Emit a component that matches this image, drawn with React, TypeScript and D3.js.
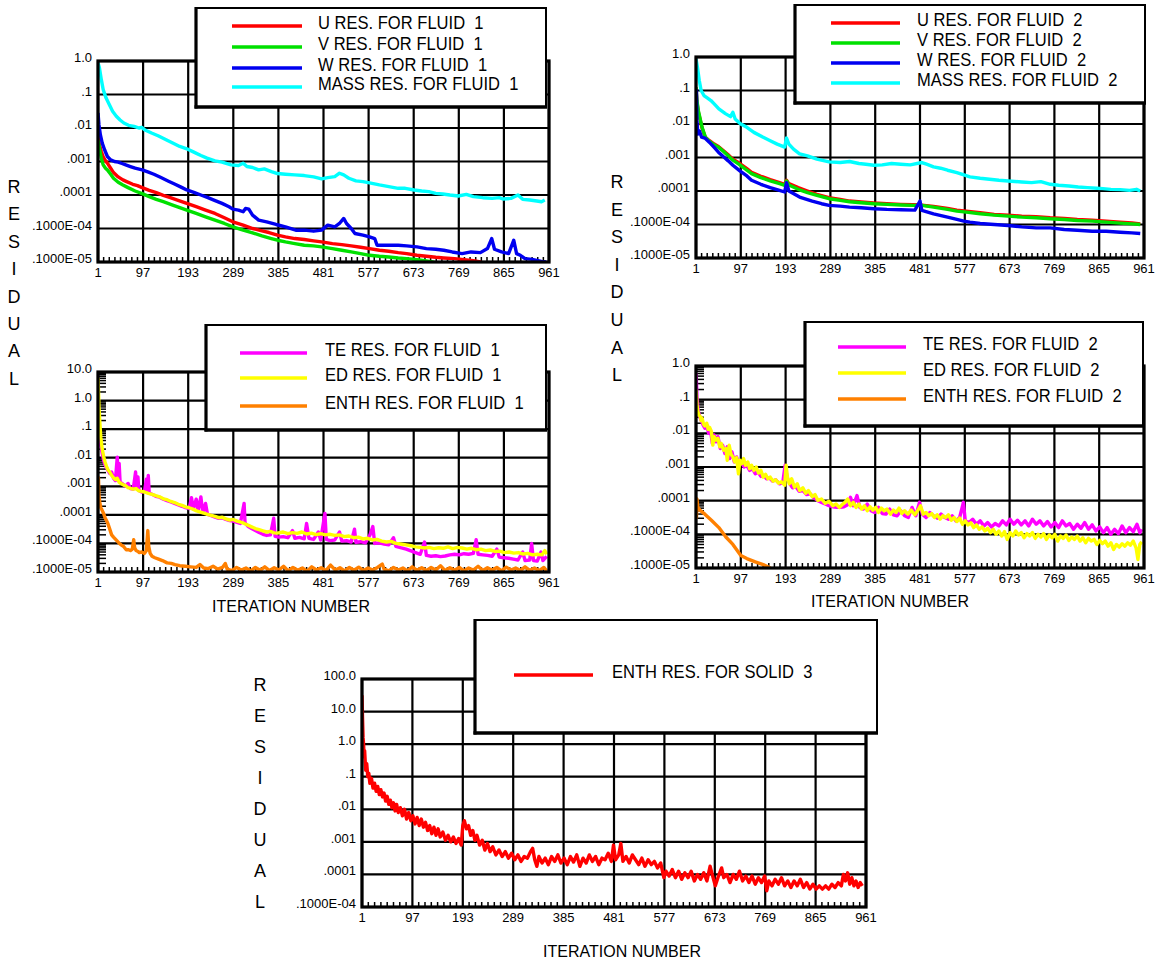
import React from "react";
import * as d3 from "d3";

// residual histories, stored as [iteration, log10(residual)]
const uFluid1: [number, number][] = [[1,-2.26],[4,-2.5],[8,-2.7],[12,-2.86],[17,-2.98],[21,-3.05],[28,-3.2],[34,-3.33],[44,-3.46],[54,-3.55],[62,-3.6],[75,-3.68],[85,-3.72],[95,-3.78],[110,-3.86],[125,-3.93],[140,-4.01],[155,-4.08],[170,-4.15],[190,-4.25],[210,-4.35],[230,-4.45],[250,-4.55],[270,-4.68],[288,-4.8],[310,-4.9],[330,-5.0],[350,-5.07],[365,-5.12],[383,-5.2],[400,-5.25],[420,-5.3],[440,-5.33],[460,-5.37],[477,-5.4],[500,-5.45],[520,-5.48],[540,-5.52],[560,-5.56],[579,-5.6],[600,-5.65],[620,-5.68],[640,-5.72],[658,-5.75],[680,-5.8],[700,-5.83],[720,-5.86],[737,-5.88],[760,-5.9],[780,-5.93],[800,-5.96],[815,-6.0],[825,-6.05]];
const vFluid1: [number, number][] = [[1,-2.36],[4,-2.6],[8,-2.9],[12,-3.1],[17,-3.2],[21,-3.25],[28,-3.38],[34,-3.5],[44,-3.62],[54,-3.7],[65,-3.78],[80,-3.88],[95,-3.96],[110,-4.05],[125,-4.13],[140,-4.2],[160,-4.3],[190,-4.45],[210,-4.55],[230,-4.65],[250,-4.75],[270,-4.85],[288,-4.95],[310,-5.05],[330,-5.13],[350,-5.22],[370,-5.3],[383,-5.35],[400,-5.4],[420,-5.45],[440,-5.5],[460,-5.52],[477,-5.55],[500,-5.6],[520,-5.65],[540,-5.7],[560,-5.75],[579,-5.8],[600,-5.83],[620,-5.85],[640,-5.88],[658,-5.9],[680,-5.93],[700,-5.97],[713,-6.0],[725,-6.05]];
const wFluid1: [number, number][] = [[1,-1.55],[3,-1.9],[6,-2.2],[10,-2.45],[15,-2.65],[21,-2.85],[28,-2.95],[36,-3.0],[44,-3.02],[52,-3.06],[60,-3.1],[70,-3.15],[80,-3.2],[95,-3.25],[107,-3.31],[120,-3.38],[135,-3.48],[150,-3.58],[165,-3.68],[180,-3.78],[190,-3.85],[205,-3.92],[220,-4.0],[235,-4.08],[249,-4.16],[265,-4.25],[280,-4.35],[288,-4.42],[300,-4.45],[310,-4.5],[315,-4.4],[322,-4.42],[330,-4.6],[343,-4.75],[360,-4.8],[380,-4.88],[400,-4.95],[422,-5.05],[440,-5.05],[460,-5.08],[477,-5.05],[490,-4.9],[505,-4.95],[515,-4.85],[524,-4.7],[530,-4.85],[540,-5.0],[548,-5.15],[565,-5.2],[579,-5.25],[590,-5.3],[595,-5.5],[620,-5.5],[640,-5.5],[658,-5.52],[680,-5.55],[700,-5.6],[720,-5.62],[737,-5.65],[755,-5.7],[776,-5.75],[795,-5.7],[815,-5.72],[830,-5.6],[839,-5.3],[845,-5.62],[860,-5.7],[875,-5.75],[886,-5.35],[892,-5.75],[900,-5.8],[910,-5.9],[925,-5.92],[945,-5.98],[955,-6.0]];
const massFluid1: [number, number][] = [[1,-0.05],[4,-0.2],[8,-0.55],[12,-0.85],[18,-1.1],[25,-1.3],[32,-1.5],[40,-1.65],[48,-1.76],[56,-1.85],[66,-1.92],[78,-1.95],[88,-2.0],[94,-1.98],[100,-2.05],[115,-2.15],[130,-2.24],[147,-2.36],[160,-2.45],[175,-2.55],[190,-2.62],[205,-2.72],[220,-2.82],[233,-2.9],[250,-2.98],[265,-3.02],[284,-3.1],[300,-3.12],[310,-3.05],[318,-3.15],[330,-3.18],[343,-3.25],[355,-3.22],[370,-3.3],[383,-3.36],[400,-3.38],[420,-3.4],[440,-3.42],[460,-3.46],[477,-3.52],[490,-3.48],[505,-3.45],[515,-3.35],[524,-3.4],[535,-3.5],[550,-3.58],[565,-3.6],[579,-3.64],[600,-3.7],[620,-3.75],[640,-3.8],[655,-3.8],[674,-3.85],[690,-3.88],[705,-3.9],[720,-3.95],[735,-3.97],[750,-4.0],[768,-4.03],[785,-3.98],[800,-4.05],[820,-4.08],[840,-4.1],[855,-4.08],[863,-4.12],[880,-4.1],[895,-4.0],[905,-4.13],[920,-4.15],[935,-4.18],[945,-4.2],[952,-4.15]];

const uFluid2: [number, number][] = [[1,-0.95],[3,-1.35],[6,-1.65],[9,-1.82],[14,-2.12],[21,-2.4],[30,-2.5],[40,-2.6],[49,-2.67],[60,-2.8],[70,-2.92],[80,-3.05],[95,-3.18],[110,-3.33],[120,-3.44],[140,-3.56],[160,-3.66],[180,-3.75],[191,-3.8],[195,-3.68],[200,-3.78],[220,-3.9],[240,-4.0],[260,-4.1],[286,-4.2],[310,-4.25],[330,-4.3],[355,-4.33],[382,-4.36],[410,-4.38],[440,-4.4],[465,-4.41],[485,-4.42],[510,-4.46],[540,-4.52],[560,-4.57],[580,-4.6],[610,-4.65],[640,-4.7],[670,-4.72],[699,-4.75],[730,-4.77],[760,-4.8],[790,-4.82],[818,-4.85],[850,-4.87],[880,-4.9],[910,-4.93],[935,-4.95],[953,-4.98]];
const vFluid2: [number, number][] = [[1,-0.9],[3,-1.3],[6,-1.6],[9,-1.79],[14,-2.1],[21,-2.39],[30,-2.52],[40,-2.62],[49,-2.69],[60,-2.82],[70,-2.95],[80,-3.08],[95,-3.22],[110,-3.38],[120,-3.48],[140,-3.6],[160,-3.7],[180,-3.78],[191,-3.83],[195,-3.7],[200,-3.82],[220,-3.95],[240,-4.05],[260,-4.13],[286,-4.23],[310,-4.28],[330,-4.32],[355,-4.35],[382,-4.38],[410,-4.4],[440,-4.42],[465,-4.43],[485,-4.43],[510,-4.48],[540,-4.55],[560,-4.6],[580,-4.63],[610,-4.68],[640,-4.72],[670,-4.75],[699,-4.78],[730,-4.8],[760,-4.83],[790,-4.85],[818,-4.88],[850,-4.9],[880,-4.93],[910,-4.96],[935,-4.98],[953,-5.0]];
const wFluid2: [number, number][] = [[1,-2.2],[2,-1.0],[3,-1.9],[5,-2.3],[8,-2.2],[13,-2.39],[20,-2.42],[30,-2.55],[40,-2.7],[49,-2.84],[60,-2.98],[70,-3.1],[80,-3.23],[95,-3.4],[110,-3.55],[120,-3.68],[140,-3.8],[160,-3.9],[180,-3.98],[191,-4.03],[195,-3.75],[200,-4.0],[223,-4.18],[250,-4.3],[270,-4.38],[286,-4.43],[310,-4.45],[330,-4.48],[355,-4.5],[382,-4.53],[410,-4.55],[440,-4.56],[470,-4.57],[481,-4.3],[485,-4.58],[510,-4.68],[540,-4.78],[560,-4.85],[575,-4.9],[588,-4.93],[610,-4.97],[640,-5.0],[670,-5.03],[699,-5.07],[730,-5.1],[760,-5.1],[790,-5.15],[818,-5.17],[850,-5.2],[880,-5.2],[910,-5.23],[935,-5.25],[953,-5.27]];
const massFluid2: [number, number][] = [[1,-0.05],[4,-0.3],[8,-0.7],[12,-1.0],[18,-1.15],[25,-1.22],[33,-1.3],[40,-1.4],[50,-1.55],[64,-1.69],[75,-1.78],[80,-1.65],[85,-1.85],[96,-1.99],[110,-2.1],[125,-2.25],[144,-2.39],[160,-2.5],[175,-2.6],[191,-2.69],[195,-2.42],[200,-2.6],[210,-2.75],[223,-2.89],[240,-2.95],[260,-3.05],[286,-3.13],[310,-3.15],[330,-3.12],[350,-3.18],[365,-3.2],[382,-3.23],[400,-3.22],[420,-3.18],[440,-3.2],[460,-3.22],[485,-3.15],[495,-3.2],[510,-3.28],[525,-3.32],[540,-3.38],[560,-3.45],[575,-3.52],[588,-3.58],[610,-3.62],[630,-3.65],[650,-3.68],[670,-3.7],[699,-3.73],[720,-3.75],[740,-3.72],[760,-3.8],[778,-3.83],[800,-3.85],[820,-3.88],[840,-3.9],[860,-3.92],[873,-3.93],[890,-3.95],[910,-3.96],[930,-3.98],[945,-3.95],[953,-4.0]];

const teFluid1: [number, number][] = [[1,-0.35],[2,-0.6],[3,-0.9],[5,-1.3],[7,-1.6],[10,-1.85],[13,-2.1],[16,-2.25],[19,-2.35],[22,-2.44],[26,-2.55],[30,-2.5],[34,-2.72],[38,-2.8],[42,-1.98],[44,-2.75],[46,-2.2],[48,-2.85],[52,-2.9],[56,-2.95],[60,-3.0],[65,-2.9],[70,-3.08],[76,-3.1],[81,-2.5],[83,-3.05],[86,-2.67],[88,-3.15],[94,-3.2],[100,-3.18],[104,-2.75],[106,-3.2],[108,-2.62],[110,-3.24],[116,-3.28],[124,-3.35],[132,-3.38],[140,-3.45],[148,-3.5],[156,-3.55],[164,-3.6],[172,-3.65],[180,-3.7],[187,-3.75],[195,-3.78],[200,-3.4],[204,-3.8],[210,-3.45],[214,-3.85],[220,-3.37],[224,-3.92],[230,-3.6],[234,-3.98],[242,-4.03],[250,-4.08],[258,-4.12],[265,-4.1],[273,-4.16],[281,-4.2],[289,-4.22],[297,-4.26],[304,-4.3],[312,-3.6],[314,-4.28],[320,-4.4],[328,-4.48],[336,-4.55],[344,-4.62],[352,-4.68],[360,-4.72],[368,-4.7],[375,-4.12],[378,-4.75],[386,-4.78],[395,-4.76],[405,-4.8],[415,-4.55],[420,-4.82],[430,-4.79],[440,-4.84],[445,-4.3],[450,-4.82],[460,-4.86],[470,-4.6],[475,-4.88],[484,-3.95],[487,-4.86],[495,-4.9],[505,-4.88],[515,-4.6],[520,-4.92],[530,-4.9],[540,-4.95],[547,-4.5],[550,-4.96],[560,-4.94],[570,-4.98],[580,-4.7],[586,-4.41],[590,-5.0],[600,-4.98],[610,-5.02],[620,-5.05],[630,-4.8],[635,-5.1],[645,-5.15],[657,-5.2],[667,-5.26],[677,-5.32],[687,-5.38],[696,-4.95],[700,-5.42],[710,-5.45],[720,-5.43],[730,-5.46],[740,-5.44],[750,-5.4],[760,-5.38],[770,-5.4],[780,-5.36],[790,-5.38],[800,-5.35],[806,-4.87],[810,-5.38],[820,-5.4],[830,-5.42],[840,-5.45],[850,-5.2],[855,-5.48],[865,-5.5],[875,-5.52],[885,-5.55],[895,-5.58],[905,-5.3],[910,-5.6],[920,-5.58],[924,-5.0],[928,-5.6],[936,-5.62],[944,-5.3],[948,-5.6],[956,-5.45]];
const edFluid1: [number, number][] = [[1,0.8],[2,0.4],[3,-0.2],[5,-0.8],[7,-1.3],[10,-1.7],[13,-1.95],[16,-2.15],[19,-2.3],[22,-2.42],[26,-2.5],[30,-2.62],[34,-2.7],[38,-2.76],[42,-2.72],[46,-2.86],[50,-2.9],[55,-2.95],[60,-2.98],[65,-3.05],[70,-3.07],[76,-3.1],[82,-3.08],[88,-3.16],[94,-3.18],[100,-3.2],[108,-3.25],[116,-3.28],[124,-3.33],[132,-3.37],[140,-3.44],[148,-3.47],[156,-3.53],[164,-3.57],[172,-3.63],[180,-3.67],[187,-3.72],[195,-3.75],[203,-3.8],[211,-3.86],[218,-3.9],[226,-3.94],[234,-3.98],[242,-4.02],[250,-4.05],[258,-4.1],[265,-4.08],[273,-4.14],[281,-4.18],[289,-4.16],[297,-4.22],[304,-4.25],[312,-4.3],[320,-4.36],[328,-4.42],[336,-4.48],[344,-4.52],[352,-4.56],[360,-4.6],[368,-4.58],[376,-4.63],[383,-4.64],[395,-4.6],[405,-4.66],[415,-4.62],[425,-4.65],[435,-4.6],[445,-4.67],[455,-4.64],[465,-4.69],[475,-4.66],[485,-4.7],[495,-4.68],[505,-4.72],[515,-4.7],[525,-4.76],[535,-4.74],[545,-4.8],[555,-4.78],[565,-4.84],[575,-4.82],[585,-4.88],[595,-4.86],[605,-4.92],[615,-4.95],[625,-4.93],[635,-5.0],[645,-5.02],[657,-5.05],[667,-5.08],[677,-5.12],[687,-5.14],[696,-5.16],[706,-5.14],[716,-5.18],[726,-5.15],[736,-5.17],[746,-5.12],[756,-5.18],[766,-5.14],[776,-5.16],[786,-5.2],[796,-5.17],[806,-5.22],[816,-5.2],[826,-5.25],[836,-5.23],[846,-5.28],[856,-5.27],[866,-5.32],[876,-5.3],[886,-5.34],[896,-5.32],[906,-5.37],[916,-5.35],[926,-5.4],[936,-5.38],[946,-5.4],[952,-5.25],[956,-5.38]];
const enthFluid1: [number, number][] = [[1,-2.9],[2,-2.7],[3,-3.3],[5,-3.6],[7,-3.75],[10,-3.85],[13,-3.95],[16,-4.1],[19,-4.2],[22,-4.3],[26,-4.5],[30,-4.7],[34,-4.78],[38,-4.85],[42,-4.92],[46,-4.99],[50,-5.05],[55,-5.1],[61,-5.22],[66,-5.22],[70,-5.25],[74,-5.2],[77,-4.87],[79,-5.15],[82,-5.25],[86,-5.28],[89,-5.32],[94,-5.3],[100,-5.35],[104,-5.25],[107,-4.55],[109,-5.1],[112,-5.35],[116,-5.45],[122,-5.5],[130,-5.55],[138,-5.6],[148,-5.68],[157,-5.7],[165,-5.74],[175,-5.78],[187,-5.8],[198,-5.82],[210,-5.84],[218,-5.74],[226,-5.86],[236,-5.88],[246,-5.8],[256,-5.9],[266,-5.84],[272,-5.7],[276,-5.9],[286,-5.95],[296,-5.84],[306,-5.93],[316,-5.86],[326,-5.96],[336,-5.84],[346,-5.94],[356,-5.82],[366,-5.95],[376,-5.85],[386,-5.93],[396,-5.8],[406,-5.96],[416,-5.84],[426,-5.94],[436,-5.86],[446,-5.97],[456,-5.82],[466,-5.93],[476,-5.85],[486,-5.95],[496,-5.76],[506,-5.93],[516,-5.85],[526,-5.96],[536,-5.84],[546,-5.94],[556,-5.83],[566,-5.95],[576,-5.86],[586,-5.93],[596,-5.84],[606,-5.72],[610,-5.9],[620,-5.96],[630,-5.84],[640,-5.93],[650,-5.86],[660,-5.96],[670,-5.82],[680,-5.94],[690,-5.85],[700,-5.95],[710,-5.84],[720,-5.93],[730,-5.78],[740,-5.95],[750,-5.85],[760,-5.94],[770,-5.84],[780,-5.96],[790,-5.86],[800,-5.93],[810,-5.8],[820,-5.95],[830,-5.85],[840,-5.94],[850,-5.84],[860,-5.96],[870,-5.83],[880,-5.93],[890,-5.86],[900,-5.95],[910,-5.82],[920,-5.94],[930,-5.86],[940,-5.95],[950,-5.84],[956,-5.96]];

const teFluid2: [number, number][] = [[1,-0.22],[2,-0.5],[3,-0.9],[5,-1.25],[7,-1.4],[10,-1.55],[13,-1.65],[16,-1.75],[20,-1.85],[24,-1.75],[28,-2.0],[32,-1.9],[36,-2.3],[40,-2.05],[44,-2.25],[48,-2.1],[53,-2.45],[58,-2.35],[63,-2.6],[68,-2.4],[73,-2.75],[78,-2.55],[83,-2.85],[88,-2.7],[93,-2.95],[98,-2.85],[104,-3.0],[110,-2.95],[116,-3.1],[122,-3.05],[128,-3.2],[134,-3.15],[140,-3.28],[146,-3.25],[152,-3.35],[158,-3.32],[165,-3.42],[172,-3.38],[180,-3.5],[187,-3.46],[192,-2.95],[196,-3.3],[202,-3.5],[208,-3.62],[215,-3.58],[222,-3.72],[230,-3.7],[238,-3.82],[246,-3.8],[254,-3.92],[262,-4.0],[270,-4.05],[278,-4.1],[286,-4.15],[294,-4.18],[302,-4.2],[310,-4.2],[318,-4.18],[326,-4.12],[332,-3.9],[338,-4.15],[346,-3.85],[352,-4.2],[360,-4.25],[368,-4.1],[376,-4.3],[384,-4.35],[392,-4.2],[400,-4.38],[408,-4.4],[416,-4.25],[424,-4.42],[432,-4.45],[440,-4.3],[448,-4.45],[456,-4.5],[464,-4.2],[472,-4.45],[480,-4.05],[486,-4.4],[494,-4.5],[502,-4.35],[510,-4.45],[518,-4.52],[526,-4.4],[534,-4.5],[542,-4.55],[550,-4.45],[558,-4.6],[566,-4.5],[574,-4.05],[578,-4.6],[586,-4.65],[594,-4.55],[602,-4.7],[610,-4.6],[618,-4.75],[626,-4.65],[634,-4.78],[642,-4.68],[650,-4.75],[658,-4.6],[666,-4.72],[674,-4.55],[682,-4.7],[690,-4.58],[698,-4.72],[706,-4.6],[714,-4.75],[722,-4.55],[730,-4.7],[738,-4.6],[746,-4.75],[754,-4.62],[762,-4.78],[770,-4.65],[778,-4.8],[786,-4.6],[794,-4.75],[802,-4.68],[810,-4.85],[818,-4.7],[826,-4.82],[834,-4.65],[842,-4.85],[850,-4.72],[858,-4.9],[866,-4.78],[874,-4.95],[882,-4.8],[890,-5.0],[898,-4.85],[906,-4.98],[914,-4.75],[922,-4.95],[930,-4.8],[938,-4.92],[946,-4.7],[952,-4.95],[956,-4.85]];
const edFluid2: [number, number][] = [[1,-0.7],[2,-0.9],[3,-1.15],[5,-1.35],[7,-1.45],[10,-1.5],[12,-1.62],[14,-1.55],[17,-1.72],[20,-1.78],[24,-1.7],[27,-1.88],[30,-1.82],[34,-1.95],[37,-2.35],[40,-2.1],[44,-2.2],[48,-2.15],[52,-2.4],[55,-2.3],[60,-2.5],[65,-2.45],[68,-2.8],[72,-2.35],[76,-2.62],[80,-2.7],[84,-2.85],[88,-2.72],[92,-3.2],[95,-2.8],[99,-2.9],[103,-2.75],[107,-2.95],[112,-2.85],[116,-3.05],[120,-2.95],[125,-3.1],[130,-3.0],[135,-3.18],[140,-3.1],[145,-3.3],[150,-3.22],[155,-3.35],[160,-3.3],[166,-3.42],[172,-3.38],[178,-3.48],[184,-3.44],[191,-3.54],[194,-2.95],[197,-3.3],[201,-3.5],[206,-3.35],[212,-3.6],[218,-3.5],[223,-3.7],[230,-3.62],[236,-3.78],[242,-3.7],[250,-3.88],[256,-3.82],[262,-3.99],[270,-3.95],[278,-4.08],[286,-4.02],[294,-4.15],[301,-4.1],[308,-4.2],[314,-4.12],[320,-4.05],[326,-3.95],[332,-4.15],[338,-4.05],[344,-4.2],[350,-4.1],[356,-4.25],[362,-4.15],[368,-4.3],[374,-4.18],[380,-4.28],[386,-4.2],[392,-4.35],[398,-4.22],[404,-4.3],[410,-4.25],[418,-4.4],[424,-4.28],[430,-4.35],[436,-4.22],[442,-4.38],[448,-4.3],[455,-4.4],[462,-4.28],[470,-4.42],[476,-4.3],[482,-4.15],[488,-4.4],[494,-4.35],[500,-4.45],[506,-4.38],[512,-4.5],[518,-4.42],[524,-4.55],[530,-4.45],[536,-4.5],[542,-4.42],[548,-4.58],[554,-4.5],[560,-4.62],[566,-4.52],[572,-4.7],[578,-4.6],[584,-4.72],[590,-4.66],[596,-4.8],[602,-4.72],[608,-4.85],[614,-4.78],[620,-4.9],[626,-4.82],[632,-4.95],[638,-4.85],[644,-5.0],[650,-4.9],[656,-5.05],[662,-4.92],[668,-5.15],[674,-4.95],[680,-5.05],[686,-4.9],[692,-5.02],[698,-4.95],[704,-5.1],[710,-4.98],[716,-5.05],[722,-4.95],[728,-5.12],[734,-5.0],[740,-5.08],[746,-4.98],[752,-5.15],[758,-5.02],[764,-5.1],[770,-5.0],[776,-5.2],[782,-5.05],[788,-5.12],[794,-5.02],[800,-5.18],[806,-5.08],[812,-5.15],[818,-5.05],[824,-5.2],[830,-5.1],[836,-5.25],[842,-5.12],[848,-5.2],[854,-5.15],[860,-5.3],[866,-5.18],[872,-5.28],[878,-5.2],[884,-5.35],[890,-5.25],[896,-5.45],[902,-5.3],[908,-5.38],[914,-5.28],[920,-5.35],[926,-5.25],[932,-5.32],[938,-5.2],[944,-5.4],[948,-5.75],[952,-5.3],[956,-5.22]];
const enthFluid2: [number, number][] = [[1,-3.9],[2,-4.5],[3,-3.95],[5,-4.2],[10,-4.29],[20,-4.4],[34,-4.58],[50,-4.8],[65,-5.08],[80,-5.3],[97,-5.63],[110,-5.72],[128,-5.82],[145,-5.9],[156,-5.97],[165,-6.05]];

const enthSolid3: [number, number][] = [[1,1.5],[2,0.8],[3,0.2],[4,0.0],[5,-0.4],[6,-0.2],[8,-0.8],[10,-0.6],[12,-1.0],[14,-0.9],[16,-1.2],[19,-1.05],[22,-1.35],[25,-1.2],[28,-1.45],[31,-1.3],[34,-1.55],[37,-1.4],[40,-1.62],[43,-1.5],[46,-1.75],[49,-1.6],[52,-1.85],[55,-1.72],[58,-1.95],[61,-1.8],[64,-2.05],[67,-1.85],[70,-2.1],[74,-1.95],[78,-2.2],[82,-2.0],[86,-2.3],[90,-2.1],[94,-2.35],[98,-2.2],[102,-2.45],[106,-2.25],[110,-2.5],[114,-2.3],[118,-2.55],[122,-2.4],[126,-2.65],[130,-2.5],[134,-2.75],[138,-2.55],[142,-2.8],[146,-2.6],[150,-2.85],[155,-2.7],[160,-2.95],[165,-2.8],[170,-3.0],[175,-2.85],[180,-3.05],[185,-2.9],[190,-3.1],[193,-2.5],[196,-2.35],[200,-2.6],[204,-2.5],[208,-2.8],[212,-2.65],[216,-2.95],[220,-2.8],[225,-3.1],[230,-2.95],[235,-3.25],[240,-3.05],[245,-3.3],[250,-3.15],[256,-3.4],[262,-3.25],[268,-3.45],[274,-3.3],[280,-3.5],[286,-3.35],[292,-3.55],[298,-3.4],[304,-3.6],[310,-3.45],[316,-3.5],[322,-3.3],[326,-3.2],[330,-3.55],[334,-3.75],[338,-3.45],[344,-3.65],[350,-3.5],[356,-3.7],[362,-3.45],[368,-3.6],[374,-3.4],[380,-3.65],[386,-3.5],[392,-3.7],[398,-3.45],[404,-3.62],[410,-3.4],[416,-3.75],[422,-3.5],[428,-3.65],[434,-3.4],[440,-3.6],[446,-3.45],[452,-3.7],[458,-3.5],[464,-3.55],[470,-3.35],[476,-3.6],[480,-3.1],[484,-3.55],[490,-3.4],[494,-3.05],[498,-3.6],[504,-3.45],[510,-3.65],[516,-3.4],[522,-3.55],[528,-3.7],[534,-3.5],[540,-3.75],[546,-3.55],[552,-3.7],[558,-3.6],[564,-3.8],[570,-3.65],[576,-4.1],[580,-3.9],[586,-4.05],[592,-3.85],[598,-4.1],[604,-3.9],[610,-4.15],[616,-3.95],[622,-4.1],[628,-3.9],[634,-4.2],[640,-4.0],[646,-4.15],[652,-3.95],[658,-4.2],[664,-3.75],[668,-4.0],[674,-4.35],[680,-4.05],[686,-3.8],[690,-4.1],[696,-4.0],[702,-4.25],[708,-4.0],[714,-4.15],[720,-3.9],[726,-4.2],[732,-4.05],[738,-4.25],[744,-4.05],[750,-4.3],[756,-4.1],[762,-4.25],[768,-4.05],[772,-4.5],[776,-4.2],[782,-4.35],[788,-4.15],[794,-4.3],[800,-4.1],[806,-4.35],[812,-4.2],[818,-4.4],[824,-4.2],[830,-4.35],[836,-4.15],[842,-4.4],[848,-4.25],[854,-4.45],[860,-4.3],[866,-4.45],[872,-4.35],[878,-4.45],[884,-4.35],[890,-4.45],[896,-4.3],[902,-4.4],[908,-4.25],[914,-4.35],[918,-4.0],[922,-4.2],[926,-3.95],[930,-4.3],[934,-4.1],[938,-4.35],[942,-4.2],[946,-4.4],[950,-4.25],[954,-4.35]];

const iterTicks = [1, 97, 193, 289, 385, 481, 577, 673, 769, 865, 961];
const decadeExps = [2, 1, 0, -1, -2, -3, -4, -5, -6];
const decadeLabels = ["100.0", "10.0", "1.0", ".1", ".01", ".001", ".0001", ".1000E-04", ".1000E-05"];
const residualLetters = ["R", "E", "S", "I", "D", "U", "A", "L"];

const FONT = "'Liberation Sans', Arial, Helvetica, sans-serif";

type Series = { label: string; color: string; data: [number, number][] };

const panels = [
  {
    id: "tl", x0: 98, x1: 549, y0: 61, y1: 262, eTop: 0, eBot: -6, minorY: false,
    legend: { x: 196, y: 8, w: 350, h: 99, lx0: 232, lx1: 302, tx: 318, rows: [26, 47, 68, 87] },
    series: [
      { label: "U RES. FOR FLUID  1", color: "#ff0000", data: uFluid1 },
      { label: "V RES. FOR FLUID  1", color: "#00e000", data: vFluid1 },
      { label: "W RES. FOR FLUID  1", color: "#0000f0", data: wFluid1 },
      { label: "MASS RES. FOR FLUID  1", color: "#00ffff", data: massFluid1 },
    ] as Series[],
    title: null as null | { x: number; y: number },
  },
  {
    id: "tr", x0: 696, x1: 1144, y0: 57, y1: 258, eTop: 0, eBot: -6, minorY: false,
    legend: { x: 795, y: 5, w: 350, h: 98, lx0: 831, lx1: 900, tx: 917, rows: [23, 43, 63, 83] },
    series: [
      { label: "U RES. FOR FLUID  2", color: "#ff0000", data: uFluid2 },
      { label: "V RES. FOR FLUID  2", color: "#00e000", data: vFluid2 },
      { label: "W RES. FOR FLUID  2", color: "#0000f0", data: wFluid2 },
      { label: "MASS RES. FOR FLUID  2", color: "#00ffff", data: massFluid2 },
    ] as Series[],
    title: null,
  },
  {
    id: "ml", x0: 98, x1: 549, y0: 372, y1: 572, eTop: 1, eBot: -6, minorY: true,
    legend: { x: 206, y: 325, w: 340, h: 105, lx0: 240, lx1: 307, tx: 325, rows: [353, 378, 406] },
    series: [
      { label: "TE RES. FOR FLUID  1", color: "#ff00ff", data: teFluid1 },
      { label: "ED RES. FOR FLUID  1", color: "#ffff00", data: edFluid1 },
      { label: "ENTH RES. FOR FLUID  1", color: "#ff8000", data: enthFluid1 },
    ] as Series[],
    title: { x: 291, y: 612 },
  },
  {
    id: "mr", x0: 696, x1: 1144, y0: 366, y1: 568, eTop: 0, eBot: -6, minorY: true,
    legend: { x: 805, y: 322, w: 338, h: 104, lx0: 838, lx1: 906, tx: 923, rows: [347, 373, 399] },
    series: [
      { label: "TE RES. FOR FLUID  2", color: "#ff00ff", data: teFluid2 },
      { label: "ED RES. FOR FLUID  2", color: "#ffff00", data: edFluid2 },
      { label: "ENTH RES. FOR FLUID  2", color: "#ff8000", data: enthFluid2 },
    ] as Series[],
    title: { x: 890, y: 607 },
  },
  {
    id: "bt", x0: 362, x1: 866, y0: 679, y1: 907, eTop: 2, eBot: -5, minorY: false,
    legend: { x: 475, y: 620, w: 402, h: 113, lx0: 514, lx1: 593, tx: 612, rows: [675] },
    series: [{ label: "ENTH RES. FOR SOLID  3", color: "#ff0000", data: enthSolid3 }] as Series[],
    title: { x: 622, y: 957 },
  },
];

const residualColumns = [
  { x: 14, y: 193, step: 27.4 },
  { x: 617, y: 188, step: 27.6 },
  { x: 260, y: 691, step: 31 },
];

function Panel({ p }: { p: (typeof panels)[number] }) {
  const x = d3.scaleLinear().domain([1, 961]).range([p.x0, p.x1]);
  const y = d3.scaleLog().domain([10 ** p.eBot, 10 ** p.eTop]).range([p.y1, p.y0]);
  const line = d3
    .line<[number, number]>()
    .x((d) => x(d[0]))
    .y((d) => y(10 ** d[1]));

  const exps = decadeExps.filter((e) => e <= p.eTop && e >= p.eBot);
  const minorX = d3.range(13, 961, 12).filter((i) => (i - 1) % 96 !== 0);
  const minorY: number[] = [];
  if (p.minorY) {
    for (let e = p.eBot; e < p.eTop; e++) for (let k = 2; k <= 9; k++) minorY.push(k * 10 ** e);
  }
  const clipId = `clip-${p.id}`;
  const lg = p.legend;

  return (
    <g>
      <defs>
        <clipPath id={clipId}>
          <rect x={p.x0} y={p.y0} width={p.x1 - p.x0} height={p.y1 - p.y0} />
        </clipPath>
      </defs>
      <rect x={p.x0} y={p.y0} width={p.x1 - p.x0} height={p.y1 - p.y0} fill="#fff" />
      {/* grid */}
      <g stroke="#000" strokeWidth={2.2}>
        {exps.map((e) => (
          <line key={e} x1={p.x0} x2={p.x1} y1={y(10 ** e)} y2={y(10 ** e)} />
        ))}
        {iterTicks.map((t) => (
          <line key={t} x1={x(t)} x2={x(t)} y1={p.y0} y2={p.y1} />
        ))}
      </g>
      <g stroke="#000" strokeWidth={1.5}>
        {minorX.map((t) => (
          <line key={t} x1={x(t)} x2={x(t)} y1={p.y1} y2={p.y1 - 5} />
        ))}
        {minorY.map((v, i) => (
          <line key={i} x1={p.x0} x2={p.x0 + 8} y1={y(v)} y2={y(v)} />
        ))}
      </g>
      {/* data */}
      <g clipPath={`url(#${clipId})`} fill="none" strokeWidth={3.4} strokeLinejoin="round">
        {p.series.map((s) => (
          <path key={s.label} d={line(s.data) ?? ""} stroke={s.color} />
        ))}
      </g>
      <rect x={p.x0} y={p.y0} width={p.x1 - p.x0} height={p.y1 - p.y0} fill="none" stroke="#000" strokeWidth={3.2} />
      {/* tick labels */}
      <g fontFamily={FONT} fontSize={13} fill="#000">
        {exps.map((e) => (
          <text key={e} x={p.x0 - 6} y={y(10 ** e) + 1} textAnchor="end">
            {decadeLabels[decadeExps.indexOf(e)]}
          </text>
        ))}
        {iterTicks.map((t) => (
          <text key={t} x={x(t)} y={p.y1 + 15} textAnchor="middle">
            {t}
          </text>
        ))}
      </g>
      {/* legend: thin top/right edges, heavier left/bottom edges */}
      <rect x={lg.x} y={lg.y} width={lg.w} height={lg.h} fill="#fff" stroke="#000" strokeWidth={2} />
      <line x1={lg.x} x2={lg.x} y1={lg.y - 1} y2={lg.y + lg.h + 1.5} stroke="#000" strokeWidth={3.2} />
      <line x1={lg.x - 1.5} x2={lg.x + lg.w + 1} y1={lg.y + lg.h} y2={lg.y + lg.h} stroke="#000" strokeWidth={3.4} />
      {p.series.map((s, i) => (
        <g key={s.label}>
          <line x1={lg.lx0} x2={lg.lx1} y1={lg.rows[i]} y2={lg.rows[i]} stroke={s.color} strokeWidth={3.5} />
          <text
            transform={`translate(${lg.tx},${lg.rows[i] + 3}) scale(0.92,1)`}
            fontFamily={FONT}
            fontSize={18}
            fill="#000"
            style={{ whiteSpace: "pre" }}
          >
            {s.label}
          </text>
        </g>
      ))}
      {p.title && (
        <text x={p.title.x} y={p.title.y} textAnchor="middle" fontFamily={FONT} fontSize={16} fill="#000">
          ITERATION NUMBER
        </text>
      )}
    </g>
  );
}

export default function App() {
  return (
    <svg
      width={1155}
      height={962}
      style={{ position: "absolute", left: 0, top: 0, background: "#fff" }}
    >
      <rect width={1155} height={962} fill="#fff" />
      {panels.map((p) => (
        <Panel key={p.id} p={p} />
      ))}
      {residualColumns.map((c, ci) =>
        residualLetters.map((ch, i) => (
          <text
            key={`${ci}-${i}`}
            x={c.x}
            y={c.y + i * c.step}
            textAnchor="middle"
            fontFamily={FONT}
            fontSize={18}
            fill="#000"
          >
            {ch}
          </text>
        ))
      )}
    </svg>
  );
}
